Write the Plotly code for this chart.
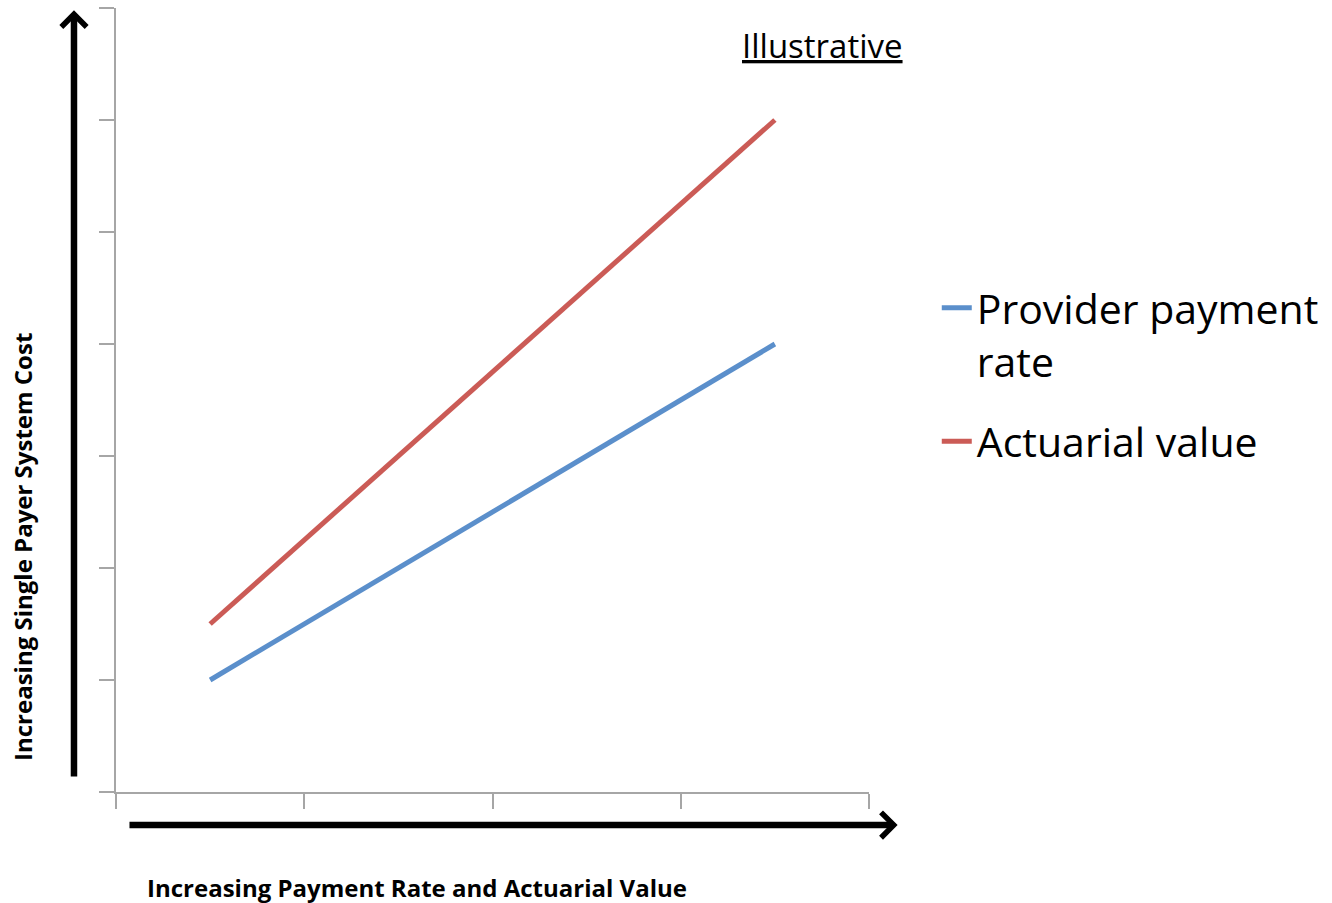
import plotly.graph_objects as go

categories = ["1", "2", "3", "4"]
provider_payment_rate = [1, 2, 3, 4]
actuarial_value = [1.5, 3, 4.5, 6]

BLUE = "#5B8FCB"
RED = "#CB5B56"
AXIS = "#A6A6A6"

fig = go.Figure()
fig.add_trace(go.Scatter(x=categories, y=provider_payment_rate, mode="lines",
                         name="Provider payment<br>rate", legendgroup="a",
                         line=dict(color=BLUE, width=5)))
fig.add_trace(go.Scatter(x=categories, y=actuarial_value, mode="lines",
                         name="Actuarial value", legendgroup="b",
                         line=dict(color=RED, width=5)))

fig.update_layout(
    width=1332, height=903,
    margin=dict(l=116, r=463, t=8, b=111),
    plot_bgcolor="white", paper_bgcolor="white",
    font=dict(family="Open Sans", color="black"),
    showlegend=True,
    legend=dict(x=1.090, y=0.660, xanchor="left", yanchor="top",
                font=dict(family="Open Sans", size=41, color="black"),
                valign="top", tracegroupgap=24, bgcolor="rgba(0,0,0,0)"),
    xaxis=dict(type="category", range=[-0.5, 3.5], tickson="boundaries",
               showticklabels=False, ticks="outside", ticklen=15, tickwidth=2,
               tickcolor=AXIS, showline=True, linecolor=AXIS, linewidth=2,
               showgrid=False, zeroline=False, fixedrange=True),
    yaxis=dict(range=[0, 7], dtick=1, showticklabels=False, ticks="outside",
               ticklen=15, tickwidth=2, tickcolor=AXIS, showline=True,
               linecolor=AXIS, linewidth=2, showgrid=False, zeroline=False,
               fixedrange=True),
)

# Black arrows
fig.add_annotation(xref="x domain", yref="y domain", axref="x domain", ayref="y domain",
                   x=-0.0558, y=0.997, ax=-0.0558, ay=0.0179, text="",
                   showarrow=True, arrowhead=4, arrowsize=0.75, arrowwidth=6.5,
                   arrowcolor="black", standoff=0)
fig.add_annotation(xref="x domain", yref="y domain", axref="x domain", ayref="y domain",
                   x=1.038, y=-0.0421, ax=0.0159, ay=-0.0421, text="",
                   showarrow=True, arrowhead=4, arrowsize=0.75, arrowwidth=6.5,
                   arrowcolor="black", standoff=0)

# Axis titles
fig.add_annotation(xref="paper", yref="paper", x=(417 - 116) / 753, y=(792 - 887) / 784,
                   text="<b>Increasing Payment Rate and Actuarial Value</b>",
                   showarrow=False, font=dict(family="Open Sans", size=24),
                   xanchor="center", yanchor="middle")
fig.add_annotation(xref="paper", yref="paper", x=(22 - 116) / 753, y=(792 - 547) / 784,
                   text="<b>Increasing Single Payer System Cost</b>", textangle=-90,
                   showarrow=False, font=dict(family="Open Sans", size=24),
                   xanchor="center", yanchor="middle")
fig.add_annotation(xref="paper", yref="paper", x=(822 - 116) / 753, y=(792 - 46) / 784,
                   text="<u>Illustrative</u>", showarrow=False,
                   font=dict(family="Open Sans", size=33),
                   xanchor="center", yanchor="middle")

fig.write_html("out.html")
